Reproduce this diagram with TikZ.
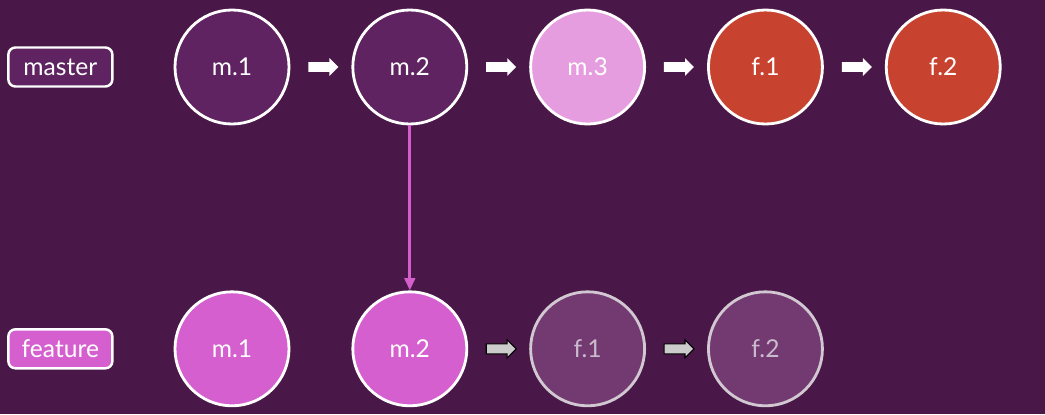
\documentclass[tikz,border=0pt]{standalone}
\usepackage{fontspec}
\setmainfont{Lato}
\usetikzlibrary{arrows.meta,shapes.arrows,positioning,calc}

\definecolor{bgpurple}{HTML}{4A1848}
\definecolor{darkcommit}{HTML}{5E2360}
\definecolor{lightcommit}{HTML}{E59DDF}
\definecolor{redcommit}{HTML}{C8432F}
\definecolor{pinkcommit}{HTML}{D65FCF}
\definecolor{fadecommit}{HTML}{733A72}
\definecolor{fadeline}{HTML}{D2C8D2}
\definecolor{fadetext}{HTML}{CBBACB}
\definecolor{mergeline}{HTML}{D45FCC}

\begin{document}
\begin{tikzpicture}[
    node distance=1.22cm,
    commit/.style={draw=white, circle, line width=1.6pt, minimum size=2.28cm, inner sep=0pt, text=white, font=\fontsize{14}{16}\selectfont},
    ghost/.style={commit, draw=fadeline, fill=fadecommit, text=fadetext},
    branch/.style={draw=white, rectangle, rounded corners=4pt, line width=1.4pt, minimum width=2.08cm, minimum height=0.78cm, text=white, font=\fontsize{14}{16}\selectfont},
    blockarrow/.style={single arrow, minimum height=0.6cm, inner xsep=0pt, inner ysep=0.09cm, single arrow head extend=0.08cm},
    nextw/.style={blockarrow, fill=white},
    nextg/.style={blockarrow, fill=gray!40, draw=black, line width=0.6pt},
    mergearrow/.style={-{Triangle[length=7pt,width=6pt]}, line width=1.6pt, mergeline},
]
    \fill [bgpurple] (0,0) rectangle (20.9,-8.28);
    \useasboundingbox (0,0) rectangle (20.9,-8.28);

    % master
    \node [commit, fill=darkcommit] (m1) at (4.64,-1.34) {m.1};
    \node [commit, fill=darkcommit, right=of m1] (m2) {m.2};
    \node [commit, fill=lightcommit, right=of m2] (m3) {m.3};
    \node [commit, fill=redcommit, right=of m3] (f1) {f.1};
    \node [commit, fill=redcommit, right=of f1] (f2) {f.2};
    \node [branch, fill=darkcommit, left=1.2cm of m1] (master) {master};

    \node [nextw] (a1) at ($(m1)!0.5!(m2)$) {};
    \node [nextw] (a2) at ($(m2)!0.5!(m3)$) {};
    \node [nextw] (a3) at ($(m3)!0.5!(f1)$) {};
    \node [nextw] (a4) at ($(f1)!0.5!(f2)$) {};

    % feature
    \node [commit, fill=pinkcommit, below=3.3cm of m1] (fm1) {m.1};
    \node [commit, fill=pinkcommit, right=of fm1] (fm2) {m.2};
    \node [ghost, right=of fm2] (ff1) {f.1};
    \node [ghost, right=of ff1] (ff2) {f.2};
    \node [branch, fill=pinkcommit, left=1.2cm of fm1] (feature) {feature};

    \node [nextg] (b1) at ($(fm2)!0.5!(ff1)$) {};
    \node [nextg] (b2) at ($(ff1)!0.5!(ff2)$) {};

    \draw [mergearrow] (m2.south) -- (fm2.north);

\end{tikzpicture}
\end{document}
